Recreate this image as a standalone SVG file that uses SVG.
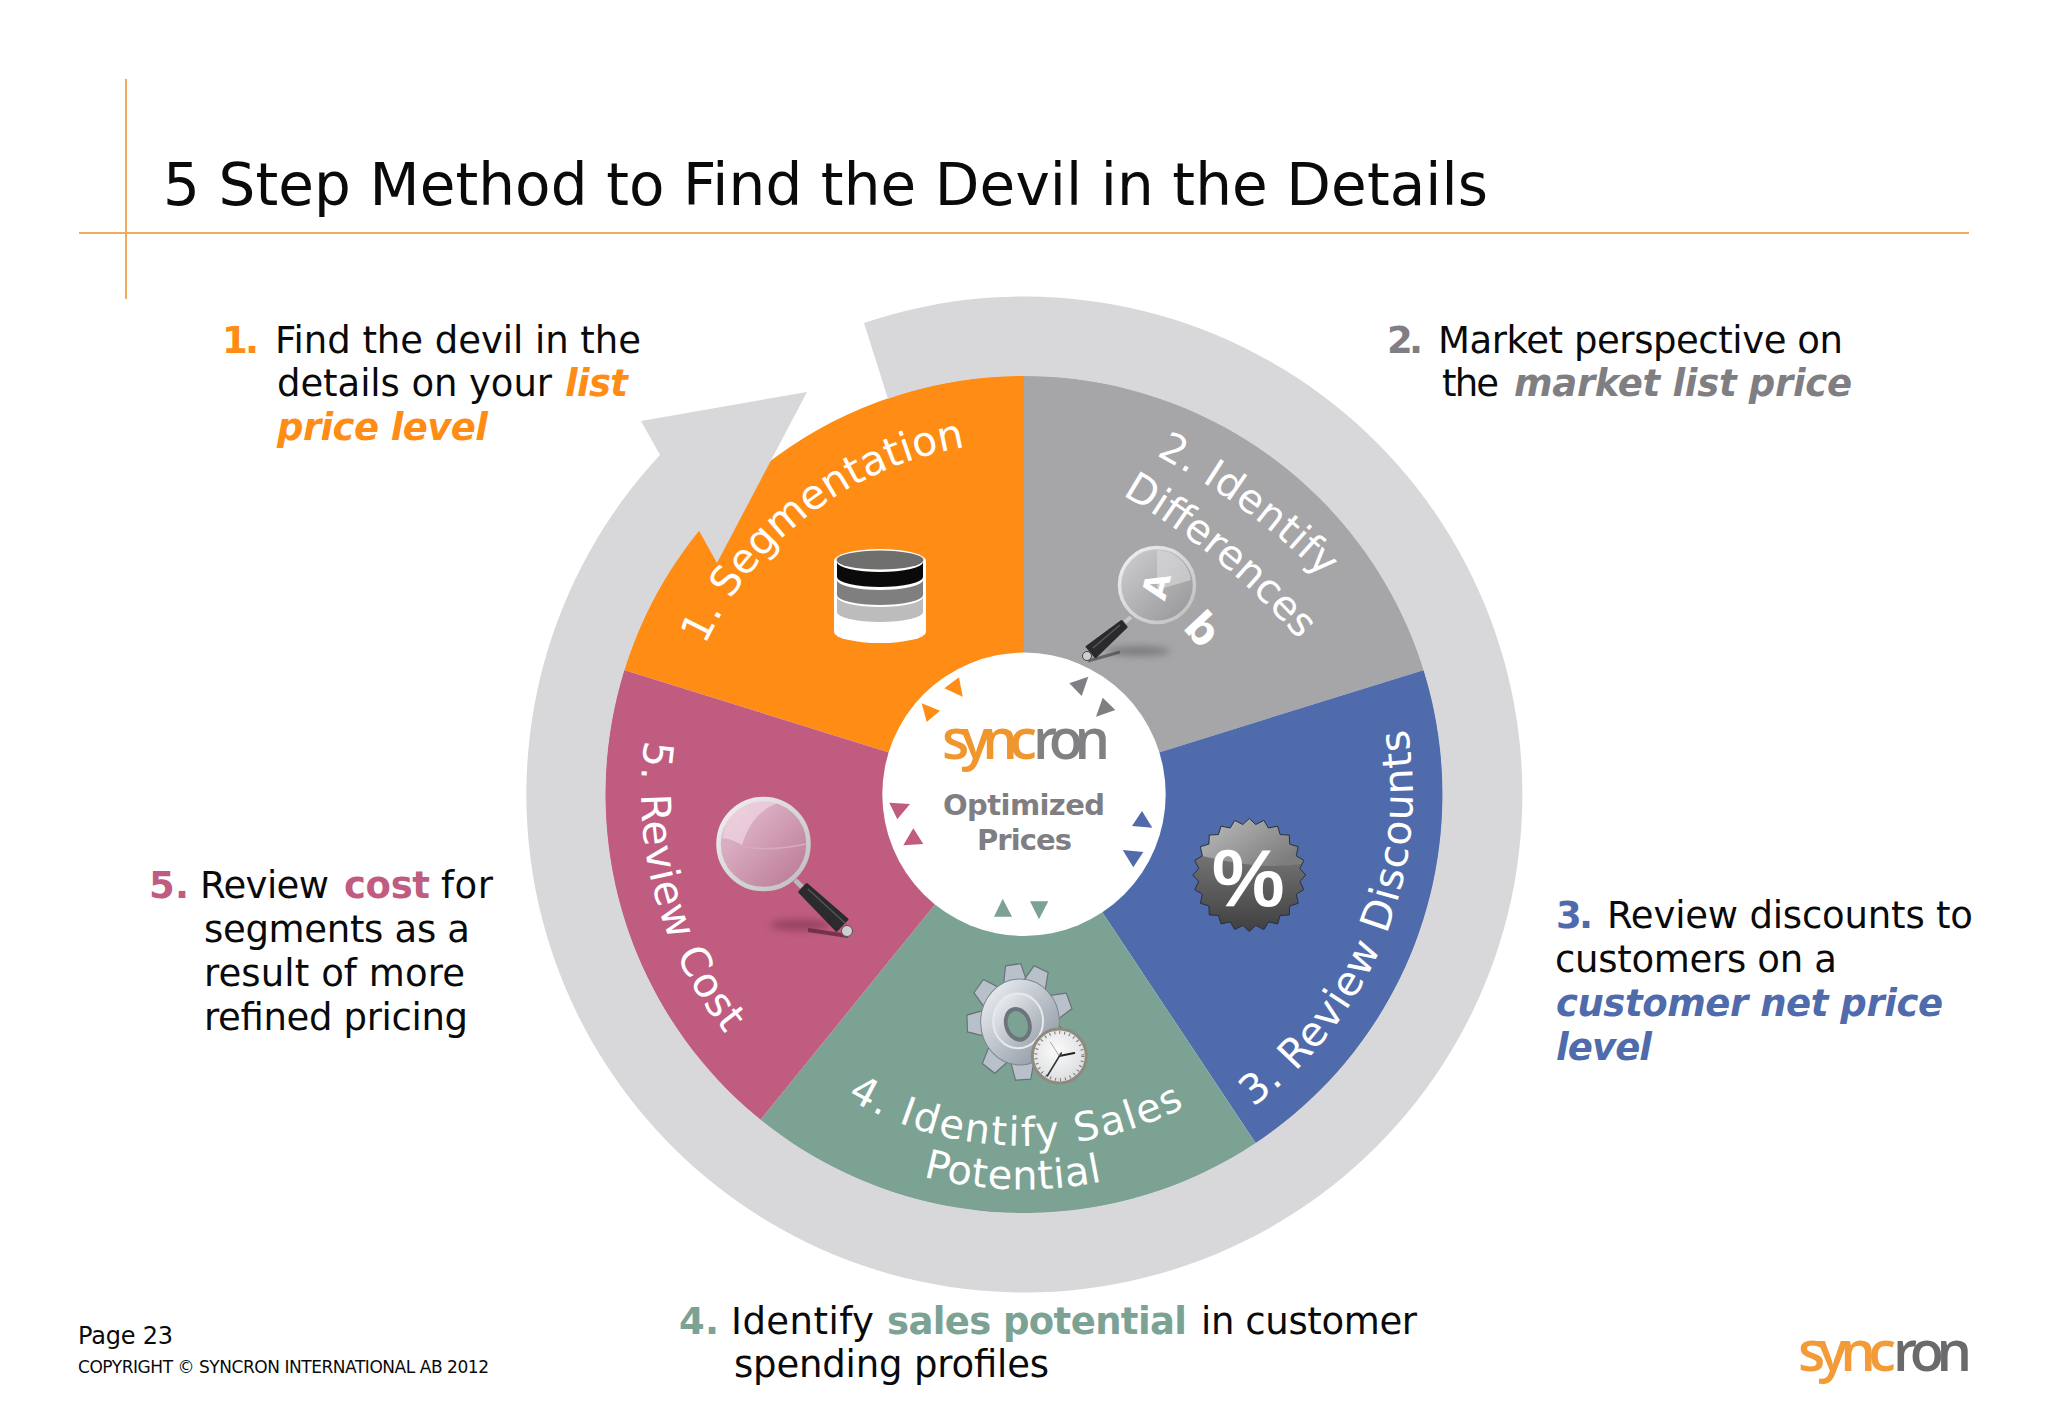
<svg xmlns="http://www.w3.org/2000/svg" width="2048" height="1418" viewBox="0 0 2048 1418">
<style>
text{font-family:"DejaVu Sans","Liberation Sans",sans-serif;fill:#0a0a0a}
.b{font-size:37px}
.n{font-size:37px;font-weight:700}
.e{font-size:37px;font-weight:700;font-style:italic}
.w{fill:#fff}
.logo{font-family:"Open Sans","Liberation Sans",sans-serif;font-size:56px;font-weight:600}
.o{fill:#ff8c14}.g{fill:#7f7e82}.u{fill:#4f6bab}.t{fill:#7ca294}.p{fill:#c05c80}
.rule{stroke:#f0ab5c;stroke-width:2;fill:none}
</style>
<defs>
<linearGradient id="lensG" x1="0" y1="0" x2="1" y2="1"><stop offset="0" stop-color="#d0d0d2"/><stop offset="1" stop-color="#939396"/></linearGradient>
<linearGradient id="lensP" x1="0" y1="0" x2="1" y2="1"><stop offset="0" stop-color="#e8c6d6"/><stop offset="1" stop-color="#b87492"/></linearGradient>
<linearGradient id="rim" x1="0" y1="0" x2="1" y2="1"><stop offset="0" stop-color="#f2f2f2"/><stop offset="1" stop-color="#bdbdbd"/></linearGradient>
<linearGradient id="badge" x1="0" y1="0" x2="0" y2="1"><stop offset="0" stop-color="#8e8e8e"/><stop offset="1" stop-color="#3e3e3e"/></linearGradient>
<linearGradient id="gloss" x1="0" y1="0" x2="1" y2="0.6"><stop offset="0" stop-color="#c4c4c4"/><stop offset="1" stop-color="#7d7d7d"/></linearGradient>
<linearGradient id="gear" x1="0" y1="0" x2="1" y2="1"><stop offset="0" stop-color="#f4f6f9"/><stop offset=".55" stop-color="#b6bdc6"/><stop offset="1" stop-color="#858d96"/></linearGradient>
<linearGradient id="hub" x1="0" y1="0" x2="1" y2="1"><stop offset="0" stop-color="#f3f4f6"/><stop offset="1" stop-color="#98a0aa"/></linearGradient>
<radialGradient id="dial" cx=".45" cy=".4" r=".7"><stop offset="0" stop-color="#fbfbfb"/><stop offset="1" stop-color="#d6d8da"/></radialGradient>
<filter id="soft" x="-30%" y="-100%" width="160%" height="300%"><feGaussianBlur stdDeviation="3.5"/></filter>
<clipPath id="badgeClip"><polygon points="0,-56.5 6.5,-50.5 14.6,-54.6 19.1,-47 28.3,-48.9 30.9,-40.4 40,-40 40.4,-30.9 48.9,-28.3 47,-19.1 54.6,-14.6 50.5,-6.5 56.5,0 50.5,6.5 54.6,14.6 47,19.1 48.9,28.3 40.4,30.9 40,40 30.9,40.4 28.3,48.9 19.1,47 14.6,54.6 6.5,50.5 0,56.5 -6.5,50.5 -14.6,54.6 -19.1,47 -28.3,48.9 -30.9,40.4 -40,40 -40.4,30.9 -48.9,28.3 -47,19.1 -54.6,14.6 -50.5,6.5 -56.5,0 -50.5,-6.5 -54.6,-14.6 -47,-19.1 -48.9,-28.3 -40.4,-30.9 -40,-40 -30.9,-40.4 -28.3,-48.9 -19.1,-47 -14.6,-54.6 -6.5,-50.5"/></clipPath>
<polygon id="tooth" points="-14,-30 14,-30 8.500,-55 -7.500,-55" fill="#b8c0ca" stroke="#69717a" stroke-width="1.200"/>
<path id="p1" d="M705 645.200A352 352 0 0 1 1054.700 443.300"/>
<path id="p2a" d="M1156 455A700 700 0 0 1 1350 607"/>
<path id="p2b" d="M1122 495A700 700 0 0 1 1320 665"/>
<path id="p3" d="M1253 1107A388 388 0 0 0 1389.600 661"/>
<path id="p4a" d="M847 1098A352 352 0 0 0 1250.300 1063.600"/>
<path id="p4b" d="M923 1176.500A395 395 0 0 0 1191 1152"/>
<path id="p5" d="M645 740A383 383 0 0 0 832.500 1125.700"/>
</defs>

<rect width="2048" height="1418" fill="#fff"/>

<g id="header">
<line class="rule" x1="126" y1="79" x2="126" y2="299"/>
<line class="rule" x1="79" y1="233" x2="1969" y2="233"/>
<text x="163" y="205" font-size="58" textLength="1325" lengthAdjust="spacing">5 Step Method to Find the Devil in the Details</text>
</g>

<g id="segment-1">
<path class="o" d="M1024 794.500L624 669.900A419 419 0 0 1 1024 375.500Z"/>
<text class="w" font-size="41"><textPath href="#p1">1. Segmentation</textPath></text>
<g id="database">
<path fill="#fff" d="M834 561A46 12 0 0 1 926 561V632A46 11 0 0 1 834 632Z"/>
<path fill="#bcbcbc" d="M837 597A43 10 0 0 0 923 597V612A43 10 0 0 1 837 612Z"/>
<path fill="#7f7f7f" d="M837 580A43 10 0 0 0 923 580V595A43 10 0 0 1 837 595Z"/>
<path fill="#0a0a0a" d="M837 562A43 10 0 0 0 923 562V577A43 10 0 0 1 837 577Z"/>
<ellipse cx="880" cy="560" rx="43.500" ry="9.500" fill="#6f706e"/>
</g>
</g>

<g id="segment-2">
<path fill="#a6a5a8" d="M1024 794.500L1024 375.500A419 419 0 0 1 1424 669.900Z"/>
<text class="w" font-size="40" letter-spacing=".6"><textPath href="#p2a">2. Identify</textPath></text>
<text class="w" font-size="40.500"><textPath href="#p2b">Differences</textPath></text>
<g id="magnifier-a">
<ellipse cx="1138" cy="651" rx="32" ry="5" fill="#5c5c5e" opacity=".55" filter="url(#soft)"/>
<path d="M1088 661L1120 652" stroke="#4a4a4c" stroke-width="3" opacity=".7"/>
<circle cx="1157" cy="585" r="37" fill="url(#lensG)" stroke="#6e6e70" stroke-width="1"/>
<path d="M1157 550A35 35 0 0 1 1191 580L1157 590Z" fill="#dcdcde" opacity=".6"/>
<circle cx="1157" cy="585" r="37.500" fill="none" stroke="url(#rim)" stroke-width="3.500"/>
<text x="0" y="0" font-size="34" font-weight="700" text-anchor="middle" transform="translate(1168 589) rotate(-76)" style="fill:#fff">A</text>
<path d="M1131 617L1125 622" stroke="#c8c8c8" stroke-width="4"/>
<path d="M1126.600 627L1121.400 621L1086.500 646.700L1095.500 657.300Z" fill="#2a2a2c" stroke="#2a2a2c" stroke-width="2" stroke-linejoin="round"/>
<path d="M1120 625L1093 648" stroke="#6a6a6c" stroke-width="1.500" opacity=".7"/>
<circle cx="1087" cy="656" r="4.500" fill="#cfcfcf" stroke="#444" stroke-width="1"/>
</g>
<text x="0" y="0" font-size="42" font-weight="700" text-anchor="middle" transform="translate(1192 639) rotate(47)" style="fill:#fff">b</text>
</g>

<g id="segment-3">
<path class="u" d="M1024 794.500L1424 669.900A419 419 0 0 1 1255.900 1143.500Z"/>
<text class="w" font-size="41" letter-spacing=".95"><textPath href="#p3">3. Review Discounts</textPath></text>
<g id="percent-badge" transform="translate(1249.300 875)">
<g clip-path="url(#badgeClip)">
<rect x="-58" y="-58" width="116" height="116" fill="url(#badge)"/>
<path d="M-58 -60H58V-12Q10 -3 -58 -22Z" fill="url(#gloss)"/>
</g>
<polygon fill="none" stroke="#26303e" stroke-width="1" points="0,-56.5 6.5,-50.5 14.6,-54.6 19.1,-47 28.3,-48.9 30.9,-40.4 40,-40 40.4,-30.9 48.9,-28.3 47,-19.1 54.6,-14.6 50.5,-6.5 56.5,0 50.5,6.5 54.6,14.6 47,19.1 48.9,28.3 40.4,30.9 40,40 30.9,40.4 28.3,48.9 19.1,47 14.6,54.6 6.5,50.5 0,56.5 -6.5,50.5 -14.6,54.6 -19.1,47 -28.3,48.9 -30.9,40.4 -40,40 -40.4,30.9 -48.9,28.3 -47,19.1 -54.6,14.6 -50.5,6.5 -56.5,0 -50.5,-6.5 -54.6,-14.6 -47,-19.1 -48.9,-28.3 -40.4,-30.9 -40,-40 -30.9,-40.4 -28.3,-48.9 -19.1,-47 -14.6,-54.6 -6.5,-50.5"/>
<text x="-1" y="31" font-size="82" font-weight="700" text-anchor="middle" style="font-family:'Liberation Sans',sans-serif;fill:#fff">%</text>
</g>
</g>

<g id="segment-4">
<path class="t" d="M1024 794.500L1255.900 1143.500A419 419 0 0 1 760.300 1120.100Z"/>
<text class="w" font-size="40" letter-spacing="1.950"><textPath href="#p4a">4. Identify Sales</textPath></text>
<text class="w" font-size="40" letter-spacing=".7"><textPath href="#p4b">Potential</textPath></text>
<g id="gear-clock">
<g transform="translate(1020 1022) scale(.96 1.05)">
<use href="#tooth" transform="rotate(-8)"/>
<use href="#tooth" transform="rotate(23)"/>
<use href="#tooth" transform="rotate(68)"/>
<use href="#tooth" transform="rotate(112)"/>
<use href="#tooth" transform="rotate(176)"/>
<use href="#tooth" transform="rotate(-144)"/>
<use href="#tooth" transform="rotate(-92)"/>
<use href="#tooth" transform="rotate(-52)"/>
<circle r="41" fill="url(#gear)" stroke="#7d858e" stroke-width="1"/>
<circle cx="-2" cy="-1" r="26" fill="url(#hub)" stroke="#e6e9ed" stroke-width="2"/>
<ellipse cx="-3" cy="1" rx="12" ry="15" transform="rotate(-25)" fill="#7ca294" stroke="#6d747c" stroke-width="4"/>
</g>
<g transform="translate(1059.300 1056)">
<circle r="27" fill="url(#dial)" stroke="#8f8a7e" stroke-width="3"/>
<circle r="23.500" fill="none" stroke="#777" stroke-width="3" stroke-dasharray="1 4"/>
<path d="M0 0L15 -3" stroke="#222" stroke-width="2" stroke-linecap="round"/>
<path d="M2 -3L-12 20" stroke="#333" stroke-width="1.500" stroke-linecap="round"/>
<path d="M0 0L-9 -14" stroke="#aaa" stroke-width="1"/>
</g>
</g>
</g>

<g id="segment-5">
<path class="p" d="M1024 794.500L760.300 1120.100A419 419 0 0 1 624 669.900Z"/>
<text class="w" font-size="41" letter-spacing=".8"><textPath href="#p5">5. Review Cost</textPath></text>
<g id="magnifier-b">
<ellipse cx="800" cy="925" rx="30" ry="6" fill="#7a3350" opacity=".55" filter="url(#soft)"/>
<path d="M808 930L848 936" stroke="#5e2540" stroke-width="4" opacity=".75"/>
<circle cx="763.500" cy="844" r="45" fill="url(#lensP)"/>
<path d="M727 818A44 44 0 0 1 778 803Q752 812 742 845Q730 838 722 838Z" fill="#efd6e2" opacity=".7"/>
<path d="M722 840Q755 855 806 844" fill="none" stroke="#d9a9bf" stroke-width="1.500"/>
<circle cx="763.500" cy="844" r="45" fill="none" stroke="url(#rim)" stroke-width="4.500"/>
<path d="M795 880L802 887" stroke="#b9b9b9" stroke-width="5"/>
<path d="M806.800 884L799.200 892L836.500 930.800L847.500 919.200Z" fill="#2b2b2d" stroke="#2b2b2d" stroke-width="2" stroke-linejoin="round"/>
<path d="M808 889L846 924" stroke="#66666a" stroke-width="1.500" opacity=".7"/>
<circle cx="847" cy="931" r="5.500" fill="#cfcfcf" stroke="#555" stroke-width="1"/>
</g>
</g>

<g id="hub-node">
<circle cx="1024" cy="794.300" r="141.700" fill="#fff"/>
<text class="logo" x="942" y="759" textLength="95" lengthAdjust="spacing" style="fill:#f0962e">sync</text>
<text class="logo" x="1033" y="759" textLength="77" lengthAdjust="spacing" style="fill:#808083">ron</text>
<text class="n g" x="943" y="815" style="font-size:29px" textLength="162" lengthAdjust="spacing">Optimized</text>
<text class="n g" x="977" y="850" style="font-size:29px" textLength="95" lengthAdjust="spacing">Prices</text>
</g>

<g id="connectors">
<path id="cycle-arrow" fill="#d8d8da" d="M864 323A498 498 0 1 1 660 455L641 421L807 392L717 563L699 530.800A418.500 418.500 0 1 0 888 398.700Z"/>
<polygon class="o" points="944.3,688.3 959,677.3 962.7,696.7"/>
<polygon class="o" points="921.7,703.3 940,710.7 926.7,722"/>
<polygon class="g" points="1069.3,683.3 1088.3,676.7 1081.7,696"/>
<polygon class="g" points="1096,716.7 1102.7,697.7 1115.3,710"/>
<polygon class="u" points="1132,826 1142,811 1152.3,827.7"/>
<polygon class="u" points="1122.7,850 1143.3,852 1133.3,867.3"/>
<polygon class="t" points="994,916.7 1002.7,898.7 1012,916.7"/>
<polygon class="t" points="1030,901.3 1048.3,901.3 1039,919.3"/>
<polygon class="p" points="889.3,802.7 910,804 897.3,819.3"/>
<polygon class="p" points="903.3,845.3 913.3,828.3 923.3,844"/>
</g>

<g id="note-1">
<text class="n o" x="222" y="353" textLength="37">1.</text>
<text class="b" x="275" y="353" textLength="366">Find the devil in the</text>
<text class="b" x="277" y="396" textLength="275">details on your</text>
<text class="e o" x="565" y="396" textLength="63">list</text>
<text class="e o" x="277" y="440" textLength="211">price level</text>
</g>
<g id="note-2">
<text class="n g" x="1387" y="353" textLength="36">2.</text>
<text class="b" x="1438" y="353" textLength="405">Market perspective on</text>
<text class="b" x="1442" y="396" textLength="57">the</text>
<text class="e g" x="1514" y="396" textLength="338">market list price</text>
</g>
<g id="note-3">
<text class="n u" x="1556" y="928" textLength="37">3.</text>
<text class="b" x="1607" y="928" textLength="366">Review discounts to</text>
<text class="b" x="1555" y="972" textLength="282">customers on a</text>
<text class="e u" x="1556" y="1016" textLength="387">customer net price</text>
<text class="e u" x="1556" y="1060" textLength="96">level</text>
</g>
<g id="note-4">
<text class="n t" x="679" y="1334" textLength="40">4.</text>
<text class="b" x="731" y="1334" textLength="143">Identify</text>
<text class="n t" x="887" y="1334" textLength="300">sales potential</text>
<text class="b" x="1201" y="1334" textLength="216">in customer</text>
<text class="b" x="734" y="1377" textLength="315">spending profiles</text>
</g>
<g id="note-5">
<text class="n p" x="149" y="898" textLength="40">5.</text>
<text class="b" x="200" y="898" textLength="129">Review</text>
<text class="n p" x="344" y="898" textLength="86">cost</text>
<text class="b" x="441" y="898" textLength="52">for</text>
<text class="b" x="204" y="942" textLength="266">segments as a</text>
<text class="b" x="204" y="986" textLength="261">result of more</text>
<text class="b" x="204" y="1030" textLength="264">refined pricing</text>
</g>

<g id="footer">
<text x="78" y="1344" font-size="24" textLength="95">Page 23</text>
<text x="78" y="1373" font-size="17" textLength="411">COPYRIGHT © SYNCRON INTERNATIONAL AB 2012</text>
<text class="logo" x="1798" y="1371" textLength="98" lengthAdjust="spacing" style="fill:#f29b38">sync</text>
<text class="logo" x="1893" y="1371" textLength="79" lengthAdjust="spacing" style="fill:#6a6a6c">ron</text>
</g>
</svg>
